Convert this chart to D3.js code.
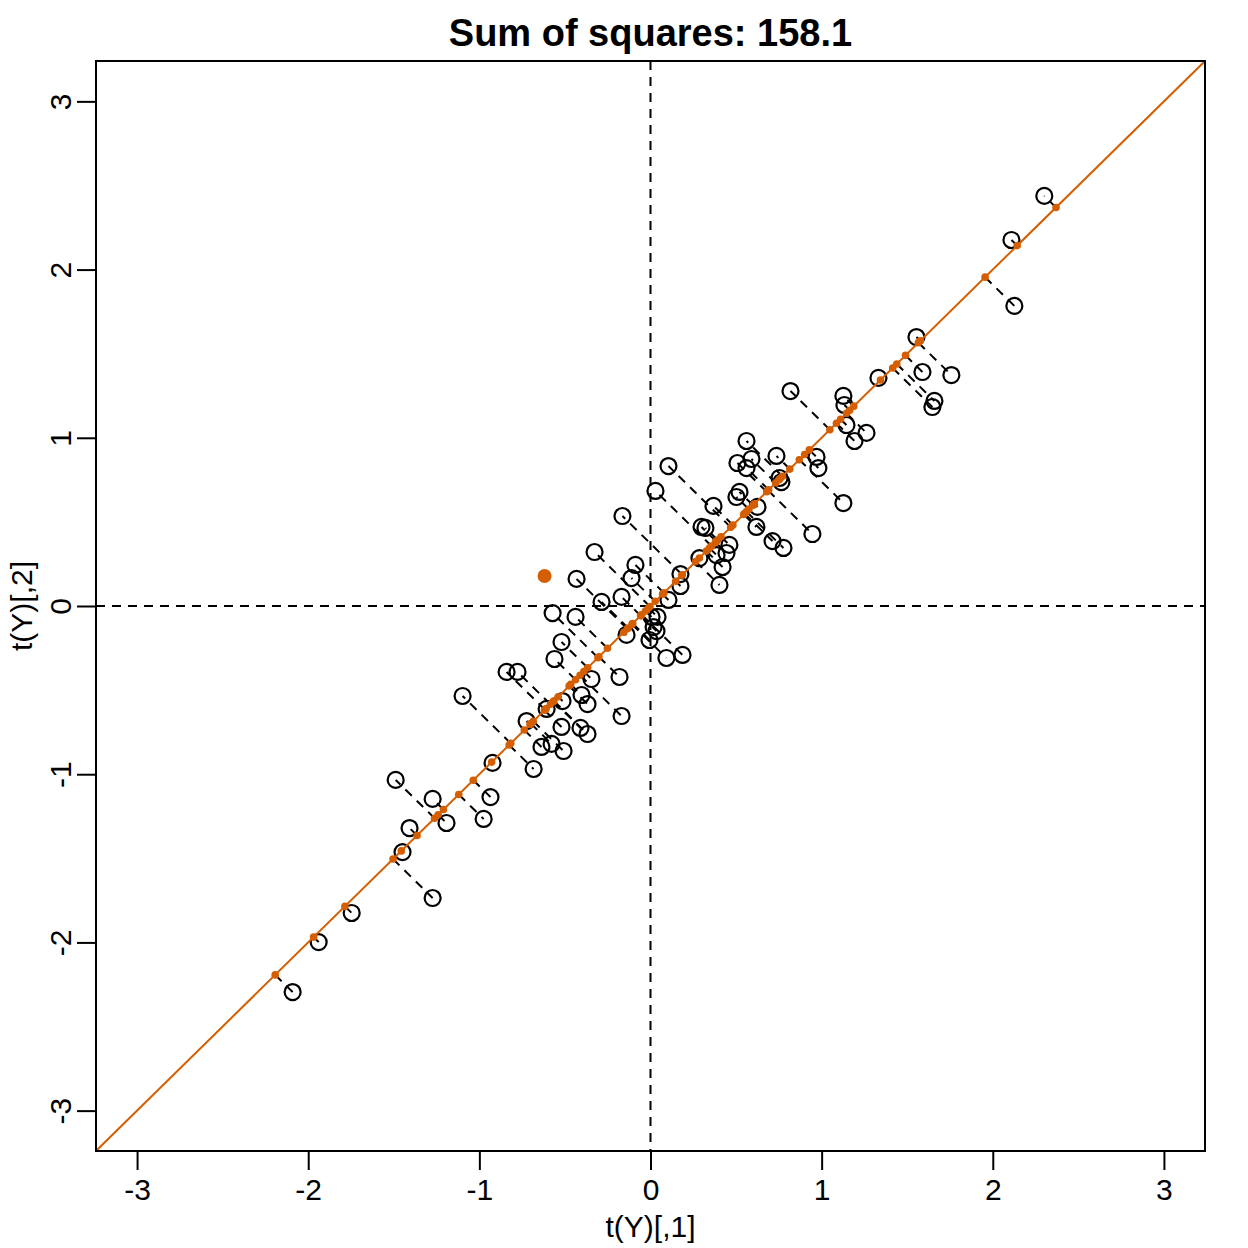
<!DOCTYPE html>
<html>
<head>
<meta charset="utf-8">
<script src="https://cdn.jsdelivr.net/npm/d3@7"></script>
<style>
  body { margin: 0; background: #fff; }
  svg { display: block; font-family: "Liberation Sans", Arial, Helvetica, sans-serif; }
</style>
</head>
<body>
<div id="chart"></div>
<script>
// observed points: t(Y)[,1]
const xs = [
  -2.091, -1.939, -1.746, -1.489, -1.449, -1.408, -1.273, -1.192, -1.273, -1.098,
  -0.975, -0.935, -0.923, -0.841, -0.777, -0.724, -0.683, -0.637, -0.578, -0.607,
  -0.561, -0.520, -0.508, -0.514, -0.520, -0.572, -0.438, -0.432, -0.409, -0.403,
  -0.368, -0.368, -0.345, -0.327, -0.286, -0.181, -0.169, -0.169, -0.164, -0.140,
  -0.111, -0.088, 0.006, 0.041, 0.018, 0.035, -0.006, 0.029, 0.093, 0.105,
  0.105, 0.175, 0.175, 0.187, 0.286, 0.298, 0.321, 0.368, 0.386, 0.403,
  0.421, 0.444, 0.461, 0.502, 0.520, 0.508, 0.561, 0.561, 0.590, 0.619,
  0.625, 0.713, 0.736, 0.754, 0.765, 0.777, 0.818, 0.946, 0.970, 0.981,
  1.127, 1.133, 1.145, 1.127, 1.192, 1.262, 1.332, 1.554, 1.589, 1.647,
  1.659, 1.758, 2.109, 2.126, 2.301
];
// observed points: t(Y)[,2]
const ys = [
  -2.295, -1.998, -1.825, -1.034, -1.463, -1.320, -1.147, -1.290, -1.736, -0.535,
  -1.266, -1.136, -0.933, -0.392, -0.392, -0.684, -0.969, -0.838, -0.820, -0.612,
  -0.315, -0.719, -0.862, -0.565, -0.214, -0.042, -0.065, 0.161, -0.725, -0.529,
  -0.583, -0.761, -0.434, 0.321, 0.024, -0.422, -0.654, 0.054, 0.535, -0.172,
  0.166, 0.244, -0.065, -0.065, -0.125, -0.149, -0.202, 0.684, -0.309, 0.036,
  0.832, 0.190, 0.119, -0.291, 0.285, 0.470, 0.464, 0.595, 0.303, 0.125,
  0.232, 0.315, 0.363, 0.648, 0.678, 0.850, 0.981, 0.820, 0.874, 0.470,
  0.589, 0.386, 0.892, 0.761, 0.737, 0.345, 1.278, 0.428, 0.886, 0.820,
  1.249, 1.195, 1.076, 0.612, 0.981, 1.029, 1.356, 1.599, 1.391, 1.183,
  1.219, 1.373, 2.176, 1.784, 2.438
];
// highlighted point
const highlight = [-0.619, 0.178];
// direction of the fitted line (y = x)
const direction = [1, 1];
const ticks = [-3, -2, -1, 0, 1, 2, 3];
const title = "Sum of squares: 158.1";
const xLabel = "t(Y)[,1]";
const yLabel = "t(Y)[,2]";

const width = 1248, height = 1248;
const marginTop = 61, marginRight = 43, marginBottom = 97, marginLeft = 96;
const orange = "#D55E00";
const font = "\"Liberation Sans\", Arial, sans-serif";

const x = d3.scaleLinear().domain([-3.24, 3.24]).range([marginLeft, width - marginRight]);
const y = d3.scaleLinear().domain([-3.24, 3.24]).range([height - marginBottom, marginTop]);

// points and their orthogonal projections onto the line
const norm = Math.hypot(direction[0], direction[1]);
const ux = direction[0] / norm, uy = direction[1] / norm;
const pts = xs.map((v, i) => {
  const t = v * ux + ys[i] * uy;
  return { x: v, y: ys[i], px: t * ux, py: t * uy };
});

const svg = d3.select("#chart").append("svg")
  .attr("width", width)
  .attr("height", height)
  .style("background", "#fff");

svg.append("defs").append("clipPath").attr("id", "plot-clip")
  .append("rect")
    .attr("x", marginLeft).attr("y", marginTop)
    .attr("width", width - marginLeft - marginRight)
    .attr("height", height - marginTop - marginBottom);

const plot = svg.append("g").attr("clip-path", "url(#plot-clip)");

// reference lines at 0
plot.append("line")
  .attr("x1", marginLeft).attr("x2", width - marginRight)
  .attr("y1", y(0)).attr("y2", y(0))
  .attr("stroke", "#000").attr("stroke-width", 2)
  .attr("stroke-dasharray", "9,7");

plot.append("line")
  .attr("x1", x(0)).attr("x2", x(0))
  .attr("y1", marginTop).attr("y2", height - marginBottom)
  .attr("stroke", "#000").attr("stroke-width", 2)
  .attr("stroke-dasharray", "9,7");

// open circles
plot.selectAll("circle.obs")
  .data(pts)
  .join("circle")
    .attr("class", "obs")
    .attr("cx", d => x(d.x))
    .attr("cy", d => y(d.y))
    .attr("r", 8)
    .attr("fill", "none")
    .attr("stroke", "#000")
    .attr("stroke-width", 2.2);

// residual segments
plot.selectAll("line.res")
  .data(pts)
  .join("line")
    .attr("class", "res")
    .attr("x1", d => x(d.px)).attr("y1", d => y(d.py))
    .attr("x2", d => x(d.x)).attr("y2", d => y(d.y))
    .attr("stroke", "#000")
    .attr("stroke-width", 2)
    .attr("stroke-dasharray", "9,7");

// fitted line
plot.append("line")
  .attr("x1", x(-3.24)).attr("y1", y(-3.24 * direction[1] / direction[0]))
  .attr("x2", x(3.24)).attr("y2", y(3.24 * direction[1] / direction[0]))
  .attr("stroke", orange)
  .attr("stroke-width", 2);

// projections
plot.selectAll("circle.proj")
  .data(pts)
  .join("circle")
    .attr("class", "proj")
    .attr("cx", d => x(d.px))
    .attr("cy", d => y(d.py))
    .attr("r", 3.8)
    .attr("fill", orange);

plot.append("circle")
  .attr("cx", x(highlight[0]))
  .attr("cy", y(highlight[1]))
  .attr("r", 7)
  .attr("fill", orange);

// box
svg.append("rect")
  .attr("x", marginLeft).attr("y", marginTop)
  .attr("width", width - marginLeft - marginRight)
  .attr("height", height - marginTop - marginBottom)
  .attr("fill", "none")
  .attr("stroke", "#000")
  .attr("stroke-width", 2);

// x axis
svg.append("g")
  .attr("transform", `translate(0,${height - marginBottom})`)
  .call(d3.axisBottom(x).tickValues(ticks).tickFormat(d => String(d)).tickSize(19).tickPadding(9))
  .call(g => g.select(".domain").remove())
  .call(g => g.selectAll(".tick line").attr("stroke", "#000").attr("stroke-width", 2))
  .call(g => g.selectAll("text")
    .attr("fill", "#000")
    .style("font-size", "30px")
    .style("font-family", font));

// y axis
svg.append("g")
  .attr("transform", `translate(${marginLeft},0)`)
  .call(d3.axisLeft(y).tickValues(ticks).tickFormat(d => String(d)).tickSize(19))
  .call(g => g.select(".domain").remove())
  .call(g => g.selectAll(".tick line").attr("stroke", "#000").attr("stroke-width", 2))
  .call(g => g.selectAll("text")
    .attr("x", null)
    .attr("dy", null)
    .attr("fill", "#000")
    .attr("text-anchor", "middle")
    .attr("transform", "translate(-25,0) rotate(-90)")
    .style("font-size", "30px")
    .style("font-family", font));

// axis titles
svg.append("text")
  .attr("x", x(0)).attr("y", 1237)
  .attr("text-anchor", "middle")
  .style("font-size", "30px")
  .text(xLabel);

svg.append("text")
  .attr("transform", `translate(32,${y(0)}) rotate(-90)`)
  .attr("text-anchor", "middle")
  .style("font-size", "30px")
  .text(yLabel);

// title
svg.append("text")
  .attr("x", x(0)).attr("y", 46)
  .attr("text-anchor", "middle")
  .style("font-size", "38px")
  .style("font-weight", "bold")
  .text(title);
</script>
</body>
</html>
